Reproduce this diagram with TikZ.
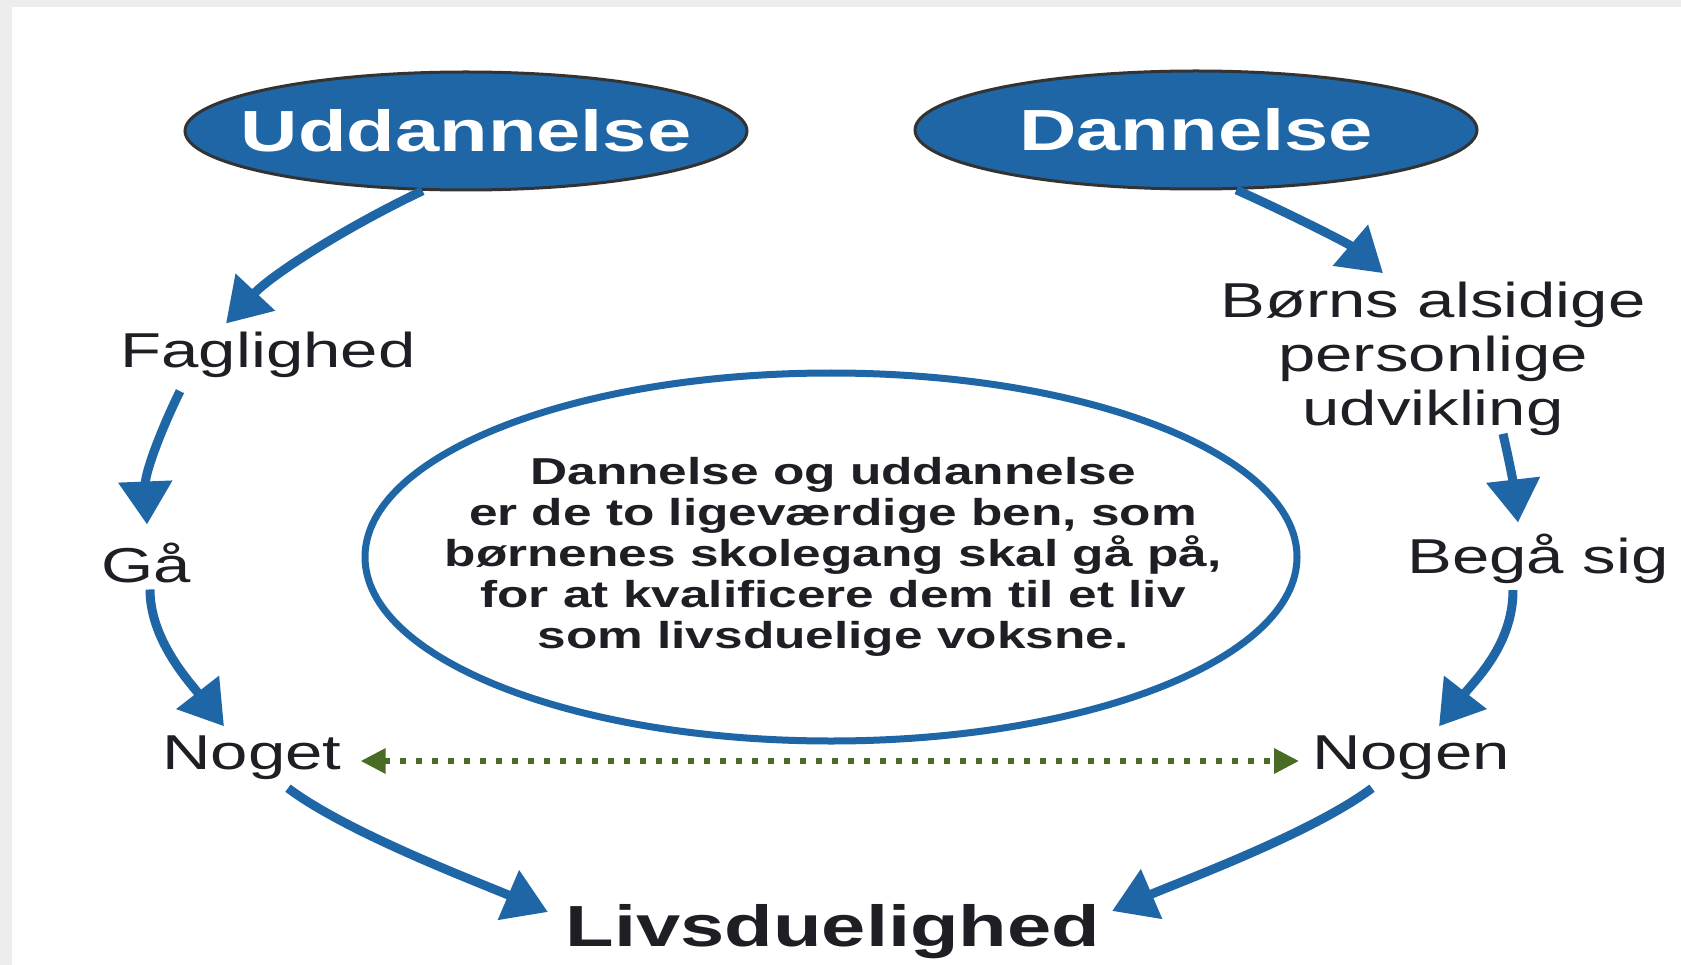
\documentclass[tikz,border=0pt]{standalone}
\usepackage{fontspec}
\setmainfont[FakeStretch=1.37]{Liberation Sans}
\usetikzlibrary{arrows.meta, shapes.geometric}

\definecolor{dblue}{RGB}{31,102,166}
\definecolor{dgreen}{RGB}{74,107,36}
\definecolor{ink}{RGB}{30,30,36}
\definecolor{frame}{RGB}{237,237,237}

\tikzset{
	oval/.style={ellipse, fill=dblue, draw=black!80, line width=3pt, minimum width=562pt, minimum height=118pt, inner sep=0pt, text=white, font=\bfseries\fontsize{58}{60}\selectfont},
	word/.style={inner sep=0pt, outer sep=0pt, text=ink, font=\fontsize{49}{54}\selectfont},
	flow/.style={draw=dblue, line width=9pt, -{Triangle[length=43pt,width=52pt]}},
	link/.style={draw=dgreen, line width=6pt, dash pattern=on 6pt off 10pt, {Triangle[length=25pt,width=24pt]}-{Triangle[length=25pt,width=24pt]}}
}

\begin{document}
\begin{tikzpicture}[x=1pt, y=-1pt]
					\def\W{1681};
					\def\H{965};

					\useasboundingbox (0,0) rectangle (\W,\H);
					\fill[frame] (0,0) rectangle (\W,\H);
					\fill[white] (12,7) rectangle (\W,\H);

					\node[oval] (udd) at (466,131) {\makebox[0pt]{Uddannelse}};
					\node[oval] (dan) at (1196,130) {\makebox[0pt]{Dannelse}};

					\node[ellipse, draw=dblue, line width=7pt, minimum width=932pt, minimum height=368pt, inner sep=0pt] (ring) at (831,557) {};
					\node[word, align=center, font=\bfseries\fontsize{37.5}{41}\selectfont] (msg) at (833,557) {Dannelse og uddannelse\\er de to ligeværdige ben, som\\børnenes skolegang skal gå på,\\for at kvalificere dem til et liv\\som livsduelige voksne.};

					\node[word, anchor=base] (fag) at (268,368) {Faglighed};
					\node[word, anchor=base] (ga) at (146,582) {Gå};
					\node[word, anchor=base] (noget) at (252,769) {Noget};
					\node[word, align=center] (borns) at (1433,359) {Børns alsidige\\personlige\\udvikling};
					\node[word, anchor=base] (bega) at (1538,573) {Begå sig};
					\node[word, anchor=base] (nogen) at (1411,769) {Nogen};
					\node[word, anchor=base, font=\bfseries\fontsize{58}{60}\selectfont] (livs) at (833,946) {Livsduelighed};

					\begin{scope}[flow]
						\draw (udd.234) .. controls +(-80,38) and +(45,-48) .. ([xshift=-42pt,yshift=9pt]fag.north);
						\draw ([xshift=-88pt,yshift=-13pt]fag.south) .. controls +(-22,45) and +(-2,-50) .. ([xshift=1pt,yshift=18pt]ga.north);
						\draw ([xshift=4pt,yshift=-7pt]ga.south) .. controls +(0,50) and +(-35,-45) .. ([xshift=-28pt,yshift=9pt]noget.north);
						\draw ([xshift=36pt,yshift=-9pt]noget.south) .. controls +(60,45) and +(-70,-30) .. ([xshift=-18pt,yshift=-8pt]livs.north west);
						\draw (dan.304) .. controls +(45,20) and +(-35,-30) .. ([xshift=-50pt,yshift=9pt]borns.north);
						\draw ([xshift=70pt,yshift=2pt]borns.south) .. controls +(8,35) and +(-4,-35) .. ([xshift=-20pt,yshift=11pt]bega.north);
						\draw ([xshift=-25pt,yshift=-7pt]bega.south) .. controls +(0,55) and +(35,-45) .. ([xshift=28pt,yshift=9pt]nogen.north);
						\draw ([xshift=-39pt,yshift=-9pt]nogen.south) .. controls +(-60,45) and +(70,-30) .. ([xshift=12pt,yshift=-7pt]livs.north east);
					\end{scope}

					\draw[link] ([xshift=19pt,yshift=8pt]noget.base east) -- ([xshift=-13pt,yshift=8pt]nogen.base west);
				\end{tikzpicture}
\end{document}
